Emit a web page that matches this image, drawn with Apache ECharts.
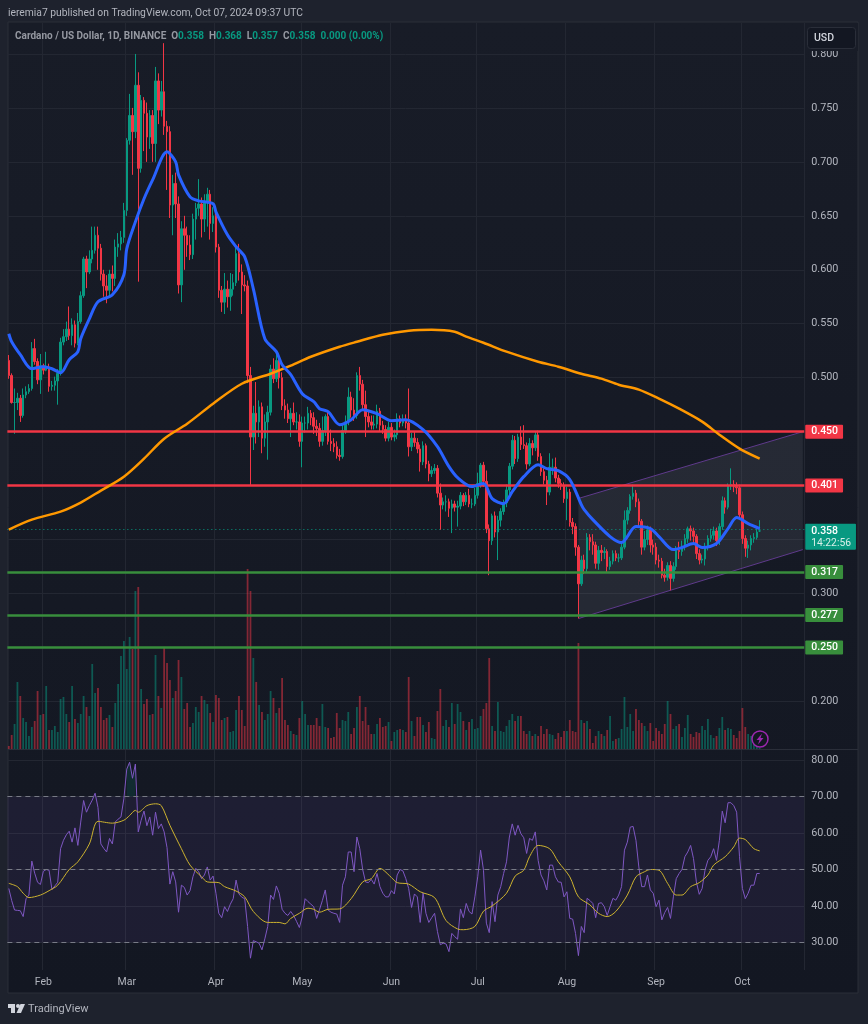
<!DOCTYPE html>
<html>
<head>
<meta charset="utf-8">
<style>
  html, body { margin: 0; padding: 0; background: #1e222d; }
  #chart { width: 868px; height: 1024px; }
</style>
<script src="https://cdn.jsdelivr.net/npm/echarts@6/dist/echarts.min.js"></script>
</head>
<body>
<div id="chart"></div>
<script>
// daily candles, index 0 = 2024-01-20
const opens = [
  .516,.502,.477,.477,.481,.465,.484,.487,.490,.527,.515,.498,.511,.507,.510,.492,.493,.497,.504,.533,
  .538,.545,.539,.549,.532,.552,.576,.610,.598,.610,.618,.632,.620,.596,.585,.581,.596,.592,.621,.624,
  .630,.655,.720,.743,.728,.771,.694,.757,.745,.723,.743,.717,.775,.748,.765,.733,.728,.660,.680,.661,
  .586,.638,.632,.623,.614,.647,.657,.661,.647,.663,.670,.643,.650,.621,.581,.570,.582,.575,.582,.588,
  .615,.598,.586,.585,.502,.445,.467,.459,.473,.444,.459,.468,.508,.499,.516,.500,.474,.470,.462,.467,
  .459,.459,.441,.458,.458,.467,.463,.455,.453,.441,.451,.464,.441,.439,.436,.428,.427,.451,.459,.482,
  .470,.465,.502,.494,.475,.464,.459,.456,.457,.469,.456,.452,.444,.454,.445,.447,.462,.458,.461,.458,
  .436,.444,.440,.434,.422,.437,.420,.411,.414,.416,.393,.382,.385,.385,.379,.383,.380,.381,.391,.385,
  .391,.383,.383,.391,.402,.419,.404,.360,.349,.372,.357,.368,.376,.384,.396,.418,.442,.425,.445,.438,
  .437,.420,.439,.435,.447,.427,.413,.405,.394,.417,.417,.407,.402,.400,.388,.394,.366,.362,.343,.309,
  .331,.323,.352,.348,.345,.328,.340,.338,.339,.325,.330,.337,.333,.333,.343,.368,.377,.390,.393,.385,
  .367,.343,.350,.359,.345,.343,.331,.330,.317,.315,.326,.314,.325,.340,.339,.344,.351,.360,.358,.353,
  .337,.331,.332,.343,.351,.354,.358,.349,.362,.386,.380,.400,.401,.399,.398,.373,.351,.342,.345,.351,
  .352,.358
]
const highs = [
  .521,.504,.490,.486,.484,.490,.492,.494,.533,.536,.518,.522,.513,.524,.513,.497,.501,.508,.537,.545,
  .552,.566,.555,.553,.560,.580,.612,.613,.618,.640,.640,.640,.624,.600,.595,.600,.604,.628,.634,.636,
  .662,.722,.763,.750,.800,.783,.762,.760,.755,.748,.748,.788,.782,.775,.810,.738,.733,.688,.690,.668,
  .645,.650,.640,.632,.652,.662,.684,.667,.670,.676,.674,.658,.654,.624,.585,.597,.590,.597,.596,.622,
  .624,.605,.595,.590,.510,.474,.496,.479,.477,.466,.474,.512,.518,.524,.522,.505,.480,.476,.472,.477,
  .468,.466,.464,.464,.473,.470,.468,.461,.458,.464,.466,.468,.452,.444,.441,.434,.456,.465,.491,.487,
  .481,.505,.510,.498,.488,.470,.465,.465,.475,.472,.460,.456,.459,.458,.452,.467,.465,.466,.466,.490,
  .449,.450,.444,.438,.441,.439,.423,.418,.420,.419,.402,.389,.391,.388,.387,.386,.386,.394,.393,.394,
  .397,.388,.398,.412,.421,.422,.414,.364,.374,.376,.372,.379,.387,.401,.421,.447,.446,.448,.455,.456,
  .440,.444,.442,.450,.451,.430,.416,.409,.430,.425,.426,.410,.406,.403,.399,.397,.370,.365,.345,.335,
  .336,.356,.355,.355,.348,.344,.345,.343,.341,.334,.340,.340,.337,.347,.377,.380,.392,.401,.396,.388,
  .369,.358,.363,.362,.350,.347,.336,.333,.323,.329,.330,.329,.344,.348,.349,.355,.362,.363,.361,.355,
  .341,.336,.347,.354,.360,.362,.361,.365,.390,.389,.402,.416,.405,.403,.401,.376,.354,.349,.354,.356,
  .360,.368
]
const lows = [
  .499,.476,.448,.470,.459,.463,.481,.485,.488,.512,.494,.485,.503,.506,.487,.488,.488,.475,.502,.530,
  .534,.535,.530,.528,.530,.550,.574,.583,.596,.606,.615,.600,.590,.575,.569,.575,.580,.585,.612,.618,
  .625,.650,.716,.688,.722,.589,.690,.710,.700,.712,.700,.700,.735,.742,.725,.674,.648,.632,.648,.578,
  .570,.600,.612,.609,.610,.628,.650,.630,.635,.640,.628,.635,.616,.574,.561,.559,.565,.562,.576,.585,
  .590,.559,.580,.495,.400,.433,.439,.445,.430,.436,.424,.465,.495,.496,.490,.470,.462,.458,.445,.456,
  .452,.436,.417,.449,.452,.456,.448,.446,.436,.437,.446,.438,.432,.431,.425,.423,.425,.448,.456,.463,
  .460,.462,.488,.470,.445,.454,.452,.452,.453,.450,.448,.441,.441,.442,.441,.443,.454,.455,.453,.427,
  .432,.436,.430,.413,.419,.416,.404,.408,.411,.389,.359,.378,.376,.371,.356,.376,.362,.378,.381,.382,
  .380,.379,.381,.388,.398,.399,.356,.317,.345,.352,.331,.362,.373,.380,.392,.415,.420,.422,.433,.434,
  .415,.418,.428,.432,.423,.409,.401,.382,.391,.410,.403,.398,.396,.384,.368,.362,.355,.335,.277,.307,
  .318,.320,.340,.336,.323,.322,.330,.332,.320,.322,.327,.330,.329,.331,.341,.364,.374,.387,.380,.362,
  .336,.340,.345,.338,.336,.327,.324,.314,.311,.312,.303,.311,.322,.332,.335,.340,.347,.349,.347,.332,
  .327,.328,.326,.340,.348,.350,.344,.345,.359,.374,.378,.396,.394,.392,.369,.346,.334,.333,.340,.347,
  .350,.357
]
const closes = [
  .502,.477,.477,.481,.465,.484,.487,.490,.527,.515,.498,.511,.507,.510,.492,.493,.497,.504,.533,.538,
  .545,.539,.549,.532,.552,.576,.610,.598,.610,.618,.632,.620,.596,.585,.581,.596,.592,.621,.624,.630,
  .655,.720,.743,.728,.771,.694,.757,.745,.723,.743,.717,.775,.748,.765,.733,.728,.660,.680,.661,.586,
  .638,.632,.623,.614,.647,.657,.661,.647,.663,.670,.643,.650,.621,.581,.570,.582,.575,.582,.588,.615,
  .598,.586,.585,.502,.445,.467,.459,.473,.444,.459,.468,.508,.499,.516,.500,.474,.470,.462,.467,.459,
  .459,.441,.458,.458,.467,.463,.455,.453,.441,.451,.464,.441,.439,.436,.428,.427,.451,.459,.482,.470,
  .465,.502,.494,.475,.464,.459,.456,.457,.469,.456,.452,.444,.454,.445,.447,.462,.458,.461,.458,.436,
  .444,.440,.434,.422,.437,.420,.411,.414,.416,.393,.382,.385,.385,.379,.383,.380,.381,.391,.385,.391,
  .383,.383,.391,.402,.419,.404,.360,.349,.372,.357,.368,.376,.384,.396,.418,.442,.425,.445,.438,.437,
  .420,.439,.435,.447,.427,.413,.405,.394,.417,.417,.407,.402,.400,.388,.394,.366,.362,.343,.309,.331,
  .323,.352,.348,.345,.328,.340,.338,.339,.325,.330,.337,.333,.333,.343,.368,.377,.390,.393,.385,.367,
  .343,.350,.359,.345,.343,.331,.330,.317,.315,.326,.314,.325,.340,.339,.344,.351,.360,.358,.353,.337,
  .331,.332,.343,.351,.354,.358,.349,.362,.386,.380,.400,.401,.399,.398,.373,.351,.342,.345,.351,.352,
  .357,.358
]
// volume has no scale on the picture, values are relative bar heights
const volumes = [
  3,14,25,67,53,31,27,13,22,28,58,34,35,63,19,19,23,17,50,52,
  35,27,63,30,26,35,53,42,33,85,56,61,42,29,31,34,22,46,65,93,
  108,80,112,100,158,162,60,45,50,34,35,94,53,41,101,86,69,51,58,89,
  72,40,46,22,26,42,37,53,49,45,36,27,54,51,29,31,32,17,18,39,
  53,39,23,180,158,91,67,44,37,29,35,58,51,36,41,71,29,24,18,15,
  14,31,48,35,24,24,24,31,23,45,22,21,11,12,36,21,29,28,37,15,
  21,42,53,28,42,24,15,15,25,31,22,23,27,8,17,19,20,19,17,72,
  28,13,32,32,24,17,27,11,10,38,60,23,29,22,46,25,45,37,28,19,
  27,30,20,21,33,40,46,91,23,18,47,18,17,23,29,35,28,33,33,18,
  15,18,13,15,13,23,15,20,15,14,10,16,12,18,18,29,18,17,106,29,
  26,28,20,6,13,18,15,13,19,33,8,10,11,20,52,22,35,18,40,29,
  26,23,18,26,8,21,18,15,25,48,35,20,23,25,12,21,34,15,12,17,
  16,23,19,30,14,11,13,21,32,19,21,20,14,11,18,41,22,15,13,6,
  3,1
]
const rsi = [
  44.8,41.5,38.9,38.8,38.7,37.1,42,43,52.3,49,46.5,45.9,49.5,50,49.8,44.5,45.5,46.5,55.7,58,
  59.5,60.5,57.5,61.4,56.6,63,68.9,65.7,67.5,69,70.9,67,57,55.8,54.8,58.5,57,63,63.8,64.4,
  69.4,77.5,79.4,75,78.9,60.3,63.5,66,62,64.4,59.4,65.7,61.2,62.5,60.3,56,46,49.4,46.6,38.3,
  45.7,45.1,43,44.2,48,50.3,49.4,47.5,48.5,50.7,47.1,48.2,43.5,38,36.8,39.8,38.5,40.5,42,47.1,
  43.3,42.4,42,34.4,25.7,30.5,30.2,29.8,28,31,34.4,43,41.8,45.5,43.5,39.1,38,37.4,38.5,37.4,
  35.8,34.1,37,42,41.2,40.5,39.8,36.6,39,41.5,44.4,38.9,38.3,38,37.8,35.5,45.7,48,54.8,54.8,
  49.4,58.9,55.7,50,46.6,46.4,47.3,46,48.9,45.3,43.5,42.5,42.5,44.2,43.3,48.5,50,49.6,47.5,44.8,
  39.6,43.3,42.5,35.5,43.6,38,35.5,36.8,38,33,29.4,29.8,29.6,27.5,32.5,31.6,30.9,39.2,36.8,40.7,
  38.5,37.8,42.5,48,55.3,49.8,35.3,32.7,41.2,35.7,43,45.3,48.9,52.1,58.9,62.5,59.4,62.1,59.8,58.7,
  54.4,58.5,58,60.3,52.5,48.5,46.9,44.4,51.2,51.2,48,46.6,46.5,42.5,43.9,36.6,36.4,32.5,26.4,34.4,
  32.7,42.1,41.5,40.7,36.8,40.7,40.9,39.8,37.4,39.8,42.1,41.6,43,45.3,55.3,57.5,61.6,61.8,58,50.7,
  45.3,45.3,48.5,44.4,43.5,39.8,41.6,36.2,38.2,39.6,36.6,42.5,47.5,48.9,50,53.5,54.8,56.6,53,46.6,
  43.2,44.8,49.8,52.5,53.5,55.7,52.5,58,66,62.8,68.3,68.3,67.5,65.7,53.5,44.8,42,43.5,45.7,45.7,
  48.9,48.9
]
// smooth lines read as [day index, value]
const rsiMa = [
  [0,46.2],[3,45.3],[5,43.5],[7,42.3],[11,43],[14,44.2],[17,45.7],[21,50],[24,52.1],[28,57],[31,63.2],[36,62.7],
  [40,63.5],[42,64.8],[44,66.2],[45,65.7],[48,67.5],[51,68],[53,67.5],[56,62.1],[60,55.7],[63,51.2],[67,48],[69,46.6],
  [73,46.4],[75,45.3],[79,44.1],[82,42.5],[85,38.5],[90,35.5],[94,35.5],[96,35.1],[98,36.6],[101,38],[104,39.4],[106,39.1],
  [108,38.3],[111,39.1],[115,39.2],[119,42],[123,46.6],[126,47.5],[129,50.3],[130,50],[133,47.8],[135,46.4],[139,46],[143,43.9],
  [148,42.3],[152,36],[156,33.7],[158,33.5],[162,34.4],[165,38.6],[168,40],[173,43.5],[176,48.2],[179,49.8],[181,53.5],[184,56.6],
  [188,55.7],[191,52.1],[195,48],[198,42.5],[202,40.3],[205,38],[208,37.1],[211,38.5],[215,43],[218,48],[221,49.4],[223,50],
  [226,49.8],[229,46.2],[232,43],[234,43],[237,45.3],[240,46.4],[243,48.5],[245,51.2],[249,53.5],[252,56.2],[254,58.6],[256,58.2],
  [259,55.7],[261,55.1]
]
const blueMa = [
  [0,.5407],[1,.5333],[4,.5213],[8,.5083],[12,.5102],[15,.5083],[18,.5046],[21,.5167],[24,.5241],[25,.5361],[28,.5546],[31,.5704],
  [36,.5769],[40,.5954],[41,.6194],[44,.6444],[47,.6658],[50,.6833],[55,.7093],[58,.7],[59,.688],[63,.6676],[66,.6639],[71,.6611],
  [72,.6537],[76,.6324],[79,.6213],[82,.612],[85,.5824],[89,.5361],[93,.5241],[95,.512],[98,.5028],[102,.4852],[106,.4778],[108,.4713],
  [111,.4685],[115,.4565],[119,.4611],[123,.4704],[128,.4667],[133,.4602],[138,.4611],[144,.4519],[149,.4361],[153,.4176],[156,.4074],[161,.3991],
  [165,.4019],[168,.388],[172,.3833],[175,.3944],[179,.4083],[184,.4194],[187,.4157],[191,.4139],[195,.4056],[199,.3824],[200,.3778],[203,.3685],
  [209,.3528],[213,.3472],[218,.362],[223,.3602],[226,.3528],[231,.3407],[234,.3426],[238,.3463],[241,.3426],[246,.3463],[250,.3602],[253,.3704],
  [257,.3648],[261,.3602]
]
const orangeMa = [
  [0,.3593],[8,.3685],[18,.3759],[25,.3843],[32,.3954],[40,.4083],[47,.425],[54,.4435],[62,.4574],[71,.4759],[81,.4944],[91,.5037],
  [98,.5111],[105,.5194],[115,.5287],[121,.5333],[130,.5398],[139,.5435],[147,.5444],[155,.5426],[159,.538],[165,.5324],[173,.5241],[184,.5148],
  [191,.5102],[199,.5037],[206,.4991],[212,.4935],[219,.4889],[226,.4806],[233,.4713],[241,.4593],[247,.4472],[254,.4343],[261,.425]
]
const channelTop = [[198, .3881], [276, .45]]
const channelBottom = [[198, .2768], [276, .3407]]
const resistanceLevels = [.45, .401]
const supportLevels = [.317, .277, .25]
const lastPrice = .358
const countdown = '14:22:56'
const rsiBands = [70, 50, 30]
const monthTicks = {
  '2024-02-01': 'Feb', '2024-03-01': 'Mar', '2024-04-01': 'Apr', '2024-05-01': 'May', '2024-06-01': 'Jun',
  '2024-07-01': 'Jul', '2024-08-01': 'Aug', '2024-09-01': 'Sep', '2024-10-01': 'Oct',
}

// 262 candles plus the empty space on the right of the last one
const days = []
for (let i = 0; i < 277; i += 1) {
  days.push(new Date(Date.UTC(2024, 0, 20 + i)).toISOString().slice(0, 10))
}

const UP = '#089981'
const DOWN = '#f23645'
const TEXT = '#b2b5be'
const GRID_LINE = '#232732'
const FONT = 'Roboto, sans-serif'

const isMonthStart = (index, value) => value in monthTicks
const levelLine = (value, color) => ({
  yAxis: value,
  lineStyle: { color, width: 2.5, type: 'solid' },
  label: {
    show: true,
    position: 'end',
    distance: 1,
    formatter: value.toFixed(3),
    color: '#fff',
    backgroundColor: color,
    fontFamily: FONT,
    fontSize: 10.5,
    fontWeight: 500,
    padding: [2, 5, 1, 6],
    borderRadius: 1,
  },
})

const hiddenAxis = (gridIndex, extra) => Object.assign({
  type: 'value', gridIndex, show: false, splitLine: { show: false },
}, extra)

const dayAxis = (gridIndex, extra) => Object.assign({
  type: 'category',
  gridIndex,
  data: days,
  boundaryGap: true,
  axisLine: { show: false },
  axisTick: { show: false },
  axisLabel: { show: false },
  splitLine: { show: false },
}, extra)

const monthGrid = { show: true, interval: isMonthStart, lineStyle: { color: GRID_LINE, width: 1 } }

const chart = echarts.init(document.getElementById('chart'))

chart.setOption({
  animation: false,
  backgroundColor: '#1e222d',
  textStyle: { fontFamily: FONT },
  title: [
    {
      text: 'ieremia7 published on TradingView.com, Oct 07, 2024 09:37 UTC',
      left: 3,
      top: 3,
      textStyle: { color: TEXT, fontSize: 10.3, fontWeight: 'normal', fontFamily: FONT },
    },
    {
      text: '{name|Cardano / US Dollar, 1D, BINANCE  O}{val|0.358}{name|  H}{val|0.368}{name|  L}{val|0.357}{name|  C}{val|0.358  0.000 (0.00%)}',
      left: 10,
      top: 26,
      textStyle: {
        rich: {
          name: { color: '#9598a1', fontSize: 10, fontFamily: FONT },
          val: { color: UP, fontSize: 10, fontFamily: FONT },
        },
      },
    },
  ],
  grid: [
    { left: 7.36, width: 796.9, top: -1.8, height: 757.2 },
    { left: 7.36, width: 796.9, top: 23, height: 726 },
    { left: 7.36, width: 796.9, top: 723.5, height: 255.5 },
    { left: 7.36, width: 796.9, top: 750, height: 220 },
  ],
  xAxis: [
    dayAxis(0),
    dayAxis(1, { splitLine: monthGrid }),
    dayAxis(2),
    dayAxis(3, {
      splitLine: monthGrid,
      axisLabel: {
        show: true,
        interval: isMonthStart,
        formatter: (value) => monthTicks[value] || '',
        color: TEXT,
        fontSize: 10.5,
        margin: 7,
        fontFamily: FONT,
      },
    }),
  ],
  yAxis: [
    {
      type: 'value',
      gridIndex: 0,
      position: 'right',
      min: 0.15,
      max: 0.85,
      interval: 0.05,
      axisLine: { show: false },
      axisTick: { show: false },
      axisLabel: {
        color: TEXT,
        fontSize: 10.8,
        margin: 7,
        padding: [0, 0, 2, 0],
        showMinLabel: false,
        showMaxLabel: false,
        fontFamily: FONT,
        formatter: (value) => value.toFixed(3),
      },
      splitLine: { show: true, showMinLine: false, showMaxLine: false, lineStyle: { color: GRID_LINE, width: 1 } },
    },
    hiddenAxis(1, { min: 0, max: 726 }),
    {
      type: 'value',
      gridIndex: 2,
      position: 'right',
      min: 20,
      max: 90,
      interval: 10,
      axisLine: { show: false },
      axisTick: { show: false },
      axisLabel: {
        color: TEXT,
        fontSize: 10.8,
        margin: 7,
        showMinLabel: false,
        showMaxLabel: false,
        fontFamily: FONT,
        formatter: (value) => value.toFixed(2),
      },
      splitLine: { show: true, showMinLine: false, showMaxLine: false, lineStyle: { color: GRID_LINE, width: 1 } },
    },
    hiddenAxis(3, { min: 0, max: 1 }),
  ],
  series: [
    {
      type: 'bar',
      name: 'Volume',
      xAxisIndex: 1,
      yAxisIndex: 1,
      barWidth: 1.8,
      z: 1,
      data: volumes.map((v, i) => ({
        value: v,
        itemStyle: { color: closes[i] < opens[i] ? 'rgba(242,54,69,0.5)' : 'rgba(8,153,129,0.5)' },
      })),
    },
    {
      type: 'custom',
      name: 'Channel',
      xAxisIndex: 0,
      yAxisIndex: 0,
      z: 2,
      encode: { x: 0, y: 1 },
      data: [channelTop[0]],
      renderItem: (params, api) => {
        const top = channelTop.map((p) => api.coord(p))
        const bottom = channelBottom.map((p) => api.coord(p))
        const edge = { stroke: '#5f3a8c', lineWidth: 1, fill: null }
        return {
          type: 'group',
          children: [
            {
              type: 'polygon',
              shape: { points: [top[0], top[1], bottom[1], bottom[0]] },
              style: { fill: 'rgba(149,152,161,0.13)' },
            },
            { type: 'polyline', shape: { points: top }, style: edge },
            { type: 'polyline', shape: { points: bottom }, style: edge },
          ],
        }
      },
    },
    {
      type: 'candlestick',
      name: 'ADAUSD',
      xAxisIndex: 0,
      yAxisIndex: 0,
      barWidth: 2,
      z: 3,
      itemStyle: { color: UP, color0: DOWN, borderColor: UP, borderColor0: DOWN, borderWidth: 1 },
      data: closes.map((c, i) => [opens[i], c, lows[i], highs[i]]),
    },
    {
      type: 'line',
      name: 'Levels',
      xAxisIndex: 0,
      yAxisIndex: 0,
      data: [],
      z: 4,
      silent: true,
      markLine: {
        silent: true,
        symbol: 'none',
        animation: false,
        data: [
          ...resistanceLevels.map((v) => levelLine(v, DOWN)),
          ...supportLevels.map((v) => levelLine(v, '#388e3c')),
          {
            yAxis: lastPrice,
            lineStyle: { color: UP, width: 1, type: [1, 3] },
            label: {
              show: true,
              position: 'end',
              distance: 1,
              offset: [0, 8],
              formatter: '{a|' + lastPrice.toFixed(3) + '}\n{b|' + countdown + '}',
              backgroundColor: UP,
              padding: [1, 5, 0, 6],
              borderRadius: 1,
              rich: {
                a: { color: '#fff', fontSize: 10.5, fontWeight: 500, lineHeight: 12.5, fontFamily: FONT },
                b: { color: '#d8efe9', fontSize: 10.3, lineHeight: 12.5, fontFamily: FONT },
              },
            },
          },
        ],
      },
    },
    {
      type: 'line',
      name: 'MA 200',
      xAxisIndex: 0,
      yAxisIndex: 0,
      data: orangeMa,
      showSymbol: false,
      smooth: 0.3,
      z: 5,
      lineStyle: { color: '#ff9800', width: 2.5 },
    },
    {
      type: 'line',
      name: 'MA 20',
      xAxisIndex: 0,
      yAxisIndex: 0,
      data: blueMa,
      showSymbol: false,
      smooth: 0.3,
      z: 6,
      lineStyle: { color: '#2962ff', width: 3 },
    },
    {
      type: 'line',
      name: 'RSI overbought',
      xAxisIndex: 2,
      yAxisIndex: 2,
      data: rsi.map((v) => (v > 70 ? v : null)),
      showSymbol: false,
      z: 2,
      lineStyle: { width: 0 },
      areaStyle: { origin: 70, color: 'rgba(8,153,129,0.22)' },
    },
    {
      type: 'line',
      name: 'RSI',
      xAxisIndex: 2,
      yAxisIndex: 2,
      data: rsi,
      showSymbol: false,
      z: 3,
      lineStyle: { color: '#7e57c2', width: 1 },
      markArea: {
        silent: true,
        itemStyle: { color: 'rgba(126,87,194,0.1)' },
        data: [[{ yAxis: rsiBands[0] }, { yAxis: rsiBands[2] }]],
      },
      markLine: {
        silent: true,
        symbol: 'none',
        animation: false,
        label: { show: false },
        lineStyle: { color: '#787b86', width: 1, type: [5, 4] },
        data: rsiBands.map((v) => ({ yAxis: v })),
      },
    },
    {
      type: 'line',
      name: 'RSI MA',
      xAxisIndex: 2,
      yAxisIndex: 2,
      data: rsiMa,
      showSymbol: false,
      smooth: 0.3,
      z: 4,
      lineStyle: { color: '#cdb32f', width: 1 },
    },
  ],
  graphic: [
    // chart frame and panes
    {
      type: 'rect',
      z: -10,
      shape: { x: 8, y: 22, width: 850, height: 971 },
      style: {
        fill: { type: 'linear', x: 0, y: 0, x2: 0, y2: 1, colorStops: [
          { offset: 0, color: '#181c27' }, { offset: 1, color: '#131722' },
        ] },
        stroke: '#2a2e39',
      },
    },
    {
      type: 'line',
      z: 20,
      shape: { x1: 8, y1: 749.5, x2: 858, y2: 749.5 },
      style: { stroke: '#2a2e39', lineWidth: 1 },
    },
    // currency button, it covers the top of the 0.800 tick label
    {
      type: 'rect',
      z: 49,
      shape: { x: 805, y: 23, width: 53, height: 28 },
      style: { fill: '#181c27' },
    },
    {
      type: 'rect',
      z: 50,
      shape: { x: 807.5, y: 27.5, width: 48, height: 21, r: 3 },
      style: { fill: '#131722', stroke: '#2a2e39' },
    },
    {
      type: 'text',
      z: 51,
      x: 814,
      y: 38,
      style: { text: 'USD', fill: '#d1d4dc', font: '500 10.5px ' + FONT, textVerticalAlign: 'middle' },
    },
    // lightning badge
    {
      type: 'circle',
      z: 50,
      shape: { cx: 760, cy: 739, r: 8 },
      style: { fill: '#131722', stroke: '#9c27b0', lineWidth: 1.5 },
    },
    {
      type: 'polygon',
      z: 51,
      shape: { points: [[762, 733.5], [756.5, 740], [759.5, 740], [758, 744.5], [763.5, 738], [760.5, 738]] },
      style: { fill: '#9c27b0' },
    },
    // footer logo
    {
      type: 'polygon',
      z: 50,
      shape: { points: [[8, 1004], [15, 1004], [15, 1013], [11, 1013], [11, 1008], [8, 1008]] },
      style: { fill: '#d1d4dc' },
    },
    {
      type: 'circle',
      z: 50,
      shape: { cx: 18, cy: 1006, r: 2 },
      style: { fill: '#d1d4dc' },
    },
    {
      type: 'polygon',
      z: 50,
      shape: { points: [[20.5, 1004], [25, 1004], [21, 1013], [16.5, 1013]] },
      style: { fill: '#d1d4dc' },
    },
    {
      type: 'text',
      z: 50,
      x: 28,
      y: 1009,
      style: { text: 'TradingView', fill: TEXT, font: '11px ' + FONT, textVerticalAlign: 'middle' },
    },
  ],
})
</script>
</body>
</html>
